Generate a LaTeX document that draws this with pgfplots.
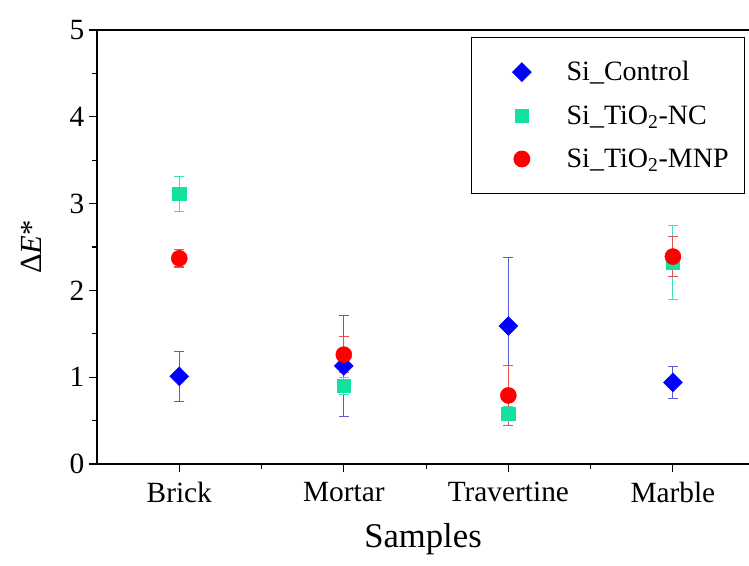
\documentclass[border=0pt]{standalone}
\usepackage{fontspec}
\setmainfont{Liberation Serif}
\usepackage{pgfplots}
\pgfplotsset{compat=1.18}
\definecolor{ctrl}{RGB}{0,0,255}
\definecolor{ctrlerr}{RGB}{90,90,210}
\definecolor{nc}{RGB}{20,225,160}
\definecolor{ncerr}{RGB}{60,225,185}
\definecolor{mnp}{RGB}{255,0,0}
\definecolor{mnperr}{RGB}{235,80,80}
\pgfplotsset{mylegend/.style={legend image code/.code={\path[draw=none,fill=none] (-0.585cm,0cm) -- (1.51cm,0cm); \draw[only marks] plot coordinates {(0.4cm,0cm)};}}}
\begin{document}
\begin{tikzpicture}
\useasboundingbox (-72.75pt,-75.75pt) rectangle (489pt,348pt);
\begin{axis}[
  scale only axis,
  width=489pt, height=325.5pt,
  xmin=0.5, xmax=4.4625,
  ymin=0, ymax=5,
  axis x line*=box, axis y line*=left,
  tick pos=left,
  tick align=outside,
  xtick={1,2,3,4},
  xticklabels={Brick,Mortar,Travertine,Marble},
  minor x tick num=1,
  ytick={0,1,2,3,4,5},
  minor y tick num=1,
  major tick length=6pt,
  minor tick length=3.5pt,
  every tick/.style={black, line width=0.8pt},
  axis line style={line width=0.8pt},
  /pgf/number format/assume math mode=true,
  tick label style={font=\fontsize{22}{24}\selectfont},
  xticklabel style={yshift=-4pt},
  xlabel={Samples},
  ylabel={Δ\textit{E}*},
  xlabel style={font=\fontsize{26}{28}\selectfont, at={(axis description cs:0.5,0)}, anchor=base, yshift=-62.25pt},
  ylabel style={font=\fontsize{23}{25}\selectfont, at={(axis description cs:-0.0844,0.5)}, anchor=base},
  legend style={at={(1,1)}, anchor=north east, xshift=-3pt, yshift=-5.25pt,
    draw=black, line width=0.6pt, font=\fontsize{21}{23}\selectfont,
    inner xsep=10pt, inner ysep=16pt, row sep=13pt,
    legend cell align=left},
  error bars/y dir=both,
  error bars/y explicit,
]
\addplot[only marks, mylegend, mark=square*, mark size=5pt, mark options={rotate=45, fill=ctrl, draw=ctrl},
  error bars/error bar style={ctrlerr, line width=0.8pt},
  error bars/error mark options={rotate=90, ctrlerr, mark size=3.75pt, line width=0.8pt}]
  coordinates {(1,1.01) +- (0,0.29) (2,1.13) +- (0,0.58) (3,1.59) +- (0,0.79) (4,0.94) +- (0,0.18)};
\addlegendentry{Si\_Control}
\addplot[only marks, mylegend, mark=square*, mark size=5pt, mark options={fill=nc, draw=nc},
  error bars/error bar style={ncerr, line width=0.8pt},
  error bars/error mark options={rotate=90, ncerr, mark size=3.75pt, line width=0.8pt}]
  coordinates {(1,3.11) +- (0,0.20) (2,0.90) +- (0,0.10) (3,0.58) +- (0,0.08) (4,2.32) +- (0,0.43)};
\addlegendentry{Si\_TiO\textsubscript{2}-NC}
\addplot[only marks, mylegend, mark=*, mark size=6pt, mark options={fill=mnp, draw=mnp},
  error bars/error bar style={mnperr, line width=0.8pt},
  error bars/error mark options={rotate=90, mnperr, mark size=3.75pt, line width=0.8pt}]
  coordinates {(1,2.37) +- (0,0.10) (2,1.26) +- (0,0.21) (3,0.79) +- (0,0.35) (4,2.39) +- (0,0.23)};
\addlegendentry{Si\_TiO\textsubscript{2}-MNP}
\end{axis}
\end{tikzpicture}
\end{document}
